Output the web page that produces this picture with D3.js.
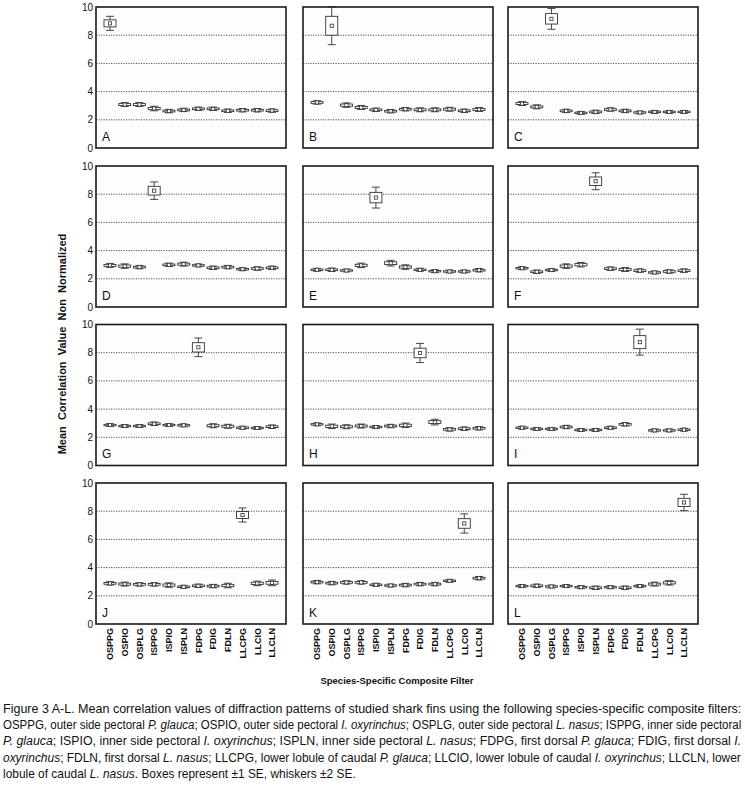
<!DOCTYPE html>
<html><head><meta charset="utf-8">
<script src="https://cdn.jsdelivr.net/npm/d3@7"></script>
<style>body{margin:0;background:#fff}svg{display:block}</style>
</head><body>
<svg id="chart" width="745" height="798"></svg>
<script>
// ---------- data ----------
const categories = ["OSPPG","OSPIO","OSPLG","ISPPG","ISPIO","ISPLN","FDPG","FDIG","FDLN","LLCPG","LLCIO","LLCLN"];
const panelLetters = ["A","B","C","D","E","F","G","H","I","J","K","L"];
const yTicks = [0,2,4,6,8,10];
const gridValues = [2,4,6,8];

const meanA = [8.84,3.08,3.08,2.80,2.62,2.70,2.78,2.78,2.64,2.68,2.68,2.65];
const seA   = [0.25,0.07,0.07,0.08,0.06,0.06,0.06,0.06,0.06,0.06,0.06,0.06];
const meanB = [3.23,8.67,3.04,2.87,2.71,2.61,2.75,2.71,2.71,2.75,2.64,2.73];
const seB   = [0.06,0.67,0.08,0.07,0.06,0.06,0.06,0.07,0.07,0.07,0.06,0.07];
const meanC = [3.15,2.92,9.16,2.63,2.49,2.56,2.73,2.63,2.52,2.56,2.56,2.56];
const seC   = [0.07,0.07,0.37,0.06,0.05,0.06,0.06,0.06,0.05,0.05,0.05,0.05];
const meanD = [2.95,2.90,2.83,8.25,2.99,3.04,2.95,2.78,2.83,2.68,2.73,2.78];
const seD   = [0.07,0.08,0.06,0.31,0.06,0.07,0.05,0.06,0.06,0.05,0.06,0.06];
const meanE = [2.64,2.64,2.59,2.95,7.76,3.11,2.83,2.64,2.54,2.52,2.52,2.61];
const seE   = [0.05,0.06,0.05,0.08,0.37,0.10,0.08,0.05,0.05,0.05,0.05,0.06];
const meanF = [2.75,2.50,2.62,2.90,3.00,8.92,2.72,2.66,2.58,2.45,2.52,2.58];
const seF   = [0.05,0.06,0.05,0.08,0.08,0.30,0.06,0.07,0.06,0.05,0.06,0.06];
const meanG = [2.87,2.80,2.80,2.96,2.87,2.85,8.38,2.82,2.78,2.68,2.66,2.75];
const seG   = [0.05,0.05,0.05,0.06,0.05,0.05,0.33,0.07,0.07,0.05,0.05,0.06];
const meanH = [2.92,2.78,2.75,2.80,2.73,2.80,2.85,7.98,3.08,2.56,2.61,2.64];
const seH   = [0.05,0.08,0.07,0.07,0.05,0.06,0.08,0.34,0.10,0.06,0.06,0.06];
const meanI = [2.68,2.59,2.59,2.73,2.52,2.52,2.68,2.92,8.75,2.49,2.49,2.54];
const seI   = [0.05,0.05,0.05,0.06,0.05,0.05,0.05,0.06,0.46,0.05,0.05,0.05];
const meanJ = [2.88,2.83,2.81,2.81,2.76,2.64,2.71,2.69,2.73,7.73,2.88,2.92];
const seJ   = [0.06,0.07,0.06,0.06,0.08,0.05,0.06,0.06,0.08,0.25,0.08,0.10];
const meanK = [2.97,2.90,2.95,2.95,2.78,2.73,2.76,2.83,2.83,3.06,7.13,3.25];
const seK   = [0.06,0.06,0.06,0.06,0.05,0.05,0.06,0.06,0.06,0.05,0.34,0.06];
const meanL = [2.69,2.71,2.66,2.69,2.61,2.57,2.61,2.57,2.69,2.83,2.92,8.62];
const seL   = [0.05,0.06,0.05,0.05,0.05,0.06,0.05,0.06,0.05,0.07,0.08,0.29];

const panelMeans = [meanA,meanB,meanC,meanD,meanE,meanF,meanG,meanH,meanI,meanJ,meanK,meanL];
const panelSE    = [seA,seB,seC,seD,seE,seF,seG,seH,seI,seJ,seK,seL];

const yTitle = "Mean  Correlation  Value  Non  Normalized";
const xTitle = "Species-Specific Composite Filter";

// ---------- layout ----------
const svg = d3.select("#chart");
const colX = [96, 303, 508];
const rowY = [7, 166, 324.5, 483];
const pw = 190, ph = 141;
const font = "'Liberation Sans', Arial, sans-serif";

panelLetters.forEach((letter, p) => {
  const col = p % 3, row = Math.floor(p / 3);
  const x0 = colX[col], y0 = rowY[row];
  const g = svg.append("g").attr("transform", `translate(${x0},${y0})`);
  const x = d3.scalePoint().domain(categories).range([0, pw]).padding(0.95);
  const y = d3.scaleLinear().domain([0, 10]).range([ph, 0]);

  g.append("rect").attr("width", pw).attr("height", ph).attr("fill", "#fdfdfd");

  g.selectAll("line.grid").data(gridValues).join("line")
    .attr("x1", 0).attr("x2", pw)
    .attr("y1", d => y(d)).attr("y2", d => y(d))
    .attr("stroke", "#3a3a3a").attr("stroke-width", 0.9)
    .attr("stroke-dasharray", "1.2,1.3");

  const data = categories.map((c, i) => ({ c, m: panelMeans[p][i], s: panelSE[p][i] }));
  const bw = 12, cw = 8;
  const b = g.selectAll("g.box").data(data).join("g")
    .attr("transform", d => `translate(${x(d.c)},0)`);
  b.append("line").attr("x1", 0).attr("x2", 0)
    .attr("y1", d => y(d.m + 2 * d.s)).attr("y2", d => y(d.m - 2 * d.s))
    .attr("stroke", "#333").attr("stroke-width", 0.9);
  b.append("line").attr("x1", -cw / 2).attr("x2", cw / 2)
    .attr("y1", d => y(d.m + 2 * d.s)).attr("y2", d => y(d.m + 2 * d.s))
    .attr("stroke", "#333").attr("stroke-width", 0.9);
  b.append("line").attr("x1", -cw / 2).attr("x2", cw / 2)
    .attr("y1", d => y(d.m - 2 * d.s)).attr("y2", d => y(d.m - 2 * d.s))
    .attr("stroke", "#333").attr("stroke-width", 0.9);
  b.append("rect").attr("x", -bw / 2).attr("width", bw)
    .attr("y", d => y(d.m + d.s)).attr("height", d => y(d.m - d.s) - y(d.m + d.s))
    .attr("fill", "#fff").attr("stroke", "#333").attr("stroke-width", 0.9);
  b.append("rect").attr("x", -1.6).attr("width", 3.2)
    .attr("y", d => y(d.m) - 1.6).attr("height", 3.2)
    .attr("fill", "#fff").attr("stroke", "#333").attr("stroke-width", 0.8);

  g.append("rect").attr("width", pw).attr("height", ph)
    .attr("fill", "none").attr("stroke", "#1a1a1a").attr("stroke-width", 1.6);

  g.append("text").attr("x", 6).attr("y", ph - 7.5)
    .attr("font-family", font).attr("font-size", 12).attr("fill", "#111")
    .text(letter);

  if (col === 0) {
    g.selectAll("text.tick").data(yTicks).join("text")
      .attr("x", -3).attr("y", d => y(d)).attr("dy", "0.35em")
      .attr("text-anchor", "end").attr("font-family", font)
      .attr("font-size", 10).attr("fill", "#111").text(d => d);
  }
  if (row === 3) {
    g.selectAll("text.xl").data(categories).join("text")
      .attr("transform", d => `translate(${x(d) + 3.3},${ph + 4}) rotate(-90)`)
      .attr("text-anchor", "end").attr("font-family", font)
      .attr("font-size", 9).attr("font-weight", "bold").attr("fill", "#111")
      .text(d => d);
  }
});

svg.append("text")
  .attr("transform", "translate(66,344) rotate(-90)")
  .attr("text-anchor", "middle").attr("font-family", font)
  .attr("font-size", 11).attr("font-weight", "bold").attr("fill", "#111")
  .style("white-space", "pre")
  .text(yTitle);

svg.append("text")
  .attr("x", 397).attr("y", 684)
  .attr("text-anchor", "middle").attr("font-family", font)
  .attr("font-size", 9.5).attr("font-weight", "bold").attr("fill", "#111")
  .text(xTitle);

// ---------- caption ----------
const captionLines = [
  [["Figure 3 A-L. Mean correlation values of diffraction patterns of studied shark fins using the following species-specific composite filters:", 0]],
  [["OSPPG, outer side pectoral ", 0], ["P. glauca", 1], ["; OSPIO, outer side pectoral ", 0], ["I. oxyrinchus", 1], ["; OSPLG, outer side pectoral ", 0], ["L. nasus", 1], ["; ISPPG, inner side pectoral", 0]],
  [["P. glauca", 1], ["; ISPIO, inner side pectoral ", 0], ["I. oxyrinchus", 1], ["; ISPLN, inner side pectoral ", 0], ["L. nasus", 1], ["; FDPG, first dorsal ", 0], ["P. glauca", 1], ["; FDIG, first dorsal ", 0], ["I.", 1]],
  [["oxyrinchus", 1], ["; FDLN, first dorsal ", 0], ["L. nasus", 1], ["; LLCPG, lower lobule of caudal ", 0], ["P. glauca", 1], ["; LLCIO, lower lobule of caudal ", 0], ["I. oxyrinchus", 1], ["; LLCLN, lower", 0]],
  [["lobule of caudal ", 0], ["L. nasus", 1], [". Boxes represent ±1 SE, whiskers ±2 SE.", 0]]
];
const lineLengths = [739, 739, 739, 739, 353];
captionLines.forEach((parts, i) => {
  const t = svg.append("text")
    .attr("font-family", font).attr("font-size", 12.5).attr("fill", "#111")
    .style("white-space", "pre");
  parts.forEach(([s, it]) => {
    t.append("tspan").attr("font-style", it ? "italic" : "normal").text(s);
  });
  const natural = t.node().getComputedTextLength();
  const sx = lineLengths[i] / natural;
  t.attr("transform", `translate(3,${712.5 + i * 16.4}) scale(${sx},1)`);
});
</script>
</body></html>
